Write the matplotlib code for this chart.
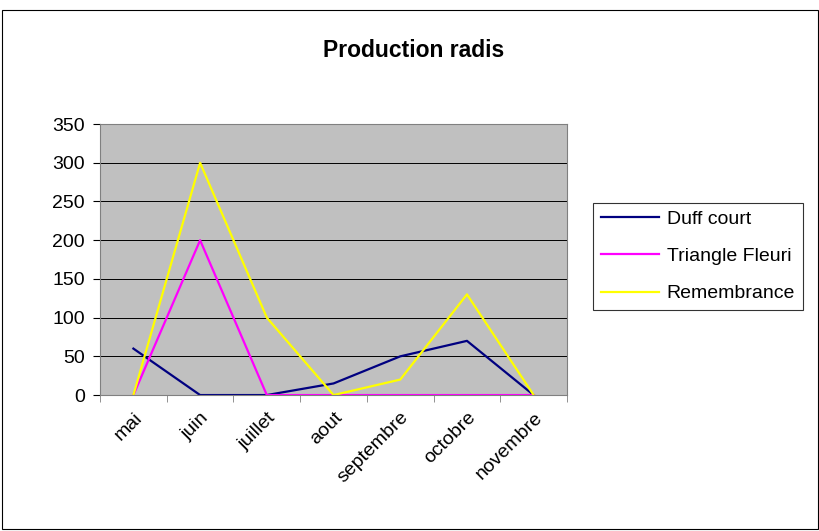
import matplotlib.pyplot as plt
import numpy as np
from matplotlib.patches import Rectangle

plt.rcParams['font.family'] = ['Liberation Sans', 'DejaVu Sans']

mois = ['mai', 'juin', 'juillet', 'aout', 'septembre', 'octobre', 'novembre']
duff_court = [60, 0, 0, 15, 50, 70, 0]
triangle_fleuri = [0, 200, 0, 0, 0, 0, 0]
remembrance = [0, 300, 100, 0, 20, 130, 0]

fig = plt.figure(figsize=(8.2, 5.31), dpi=100)
# cadre autour du graphique
fig.patches.append(Rectangle((0.002, 0.004), 0.996, 0.978, transform=fig.transFigure,
                             fill=False, edgecolor='black', linewidth=0.8))

ax = fig.add_axes([0.122, 0.256, 0.5695, 0.5104])
ax.set_facecolor('#C0C0C0')

x = np.arange(len(mois))
ax.plot(x, duff_court, color='#000080', linewidth=1.6, label='Duff court')
ax.plot(x, triangle_fleuri, color='#FF00FF', linewidth=1.6, label='Triangle Fleuri')
ax.plot(x, remembrance, color='#FFFF00', linewidth=1.6, label='Remembrance')

ax.set_xlim(-0.5, len(mois) - 0.5)
ax.set_ylim(0, 350)
ax.set_yticks(range(0, 351, 50))
ax.yaxis.grid(True, color='black', linewidth=0.7)
ax.set_axisbelow(True)

ax.set_xticks(x)
ax.set_xticklabels(mois, rotation=45, ha='right', rotation_mode='anchor')
ax.set_xticks(np.arange(-0.5, len(mois), 1), minor=True)
ax.tick_params(axis='x', which='major', length=0, pad=10, labelsize=14)
ax.tick_params(axis='x', which='minor', length=5, color='#808080')
ax.tick_params(axis='y', length=5, labelsize=14, pad=6)

for side in ['top', 'right', 'bottom', 'left']:
    ax.spines[side].set_color('#808080')

fig.text(0.504, 0.905, 'Production radis', ha='center', va='center',
         fontsize=16.5, fontweight='bold')

leg = fig.legend(loc='upper left', bbox_to_anchor=(0.723, 0.618), fontsize=14,
                 frameon=True, fancybox=False, edgecolor='black', handlelength=3.0,
                 labelspacing=1.0, borderpad=0.4, handletextpad=0.4,
                 borderaxespad=0)
leg.get_frame().set_linewidth(0.8)

fig.savefig('out.png', dpi=100)
